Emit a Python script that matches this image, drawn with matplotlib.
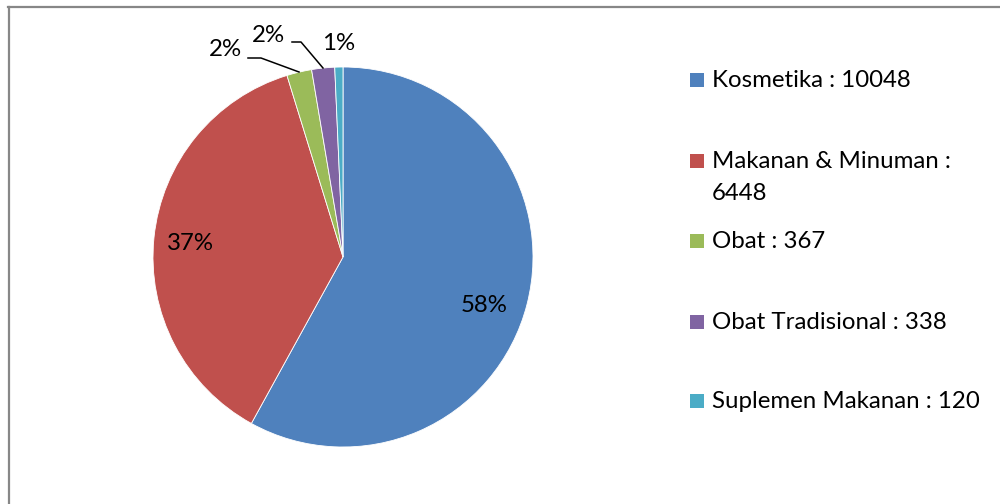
import matplotlib
matplotlib.use("Agg")
import matplotlib.pyplot as plt
from matplotlib.patches import Rectangle
from matplotlib.lines import Line2D

categories = ["Kosmetika", "Makanan & Minuman", "Obat", "Obat Tradisional", "Suplemen Makanan"]
values = [10048, 6448, 367, 338, 120]
legend_labels = ["Kosmetika : 10048", "Makanan & Minuman :\n6448", "Obat : 367",
                 "Obat Tradisional : 338", "Suplemen Makanan : 120"]
colors = ["#4F81BD", "#C0504D", "#9BBB59", "#8064A2", "#4BACC6"]

plt.rcParams['font.family'] = ['Lato', 'DejaVu Sans']

W, H = 1000, 504
FS = 17.3
fig = plt.figure(figsize=(W / 100, H / 100), dpi=100)
fig.patch.set_facecolor("white")

# figure border (top and left visible)
fig.add_artist(Line2D([8 / W, 1.0], [1 - 7 / H, 1 - 7 / H], color="#878787", lw=1.6,
                      transform=fig.transFigure))
fig.add_artist(Line2D([8.5 / W, 8.5 / W], [0, 1 - 7 / H], color="#878787", lw=1.6,
                      transform=fig.transFigure))

cx, cy, r = 343, 257, 190
ax = fig.add_axes([(cx - r) / W, (H - cy - r) / H, 2 * r / W, 2 * r / H])
wedges, _ = ax.pie(values, colors=colors, startangle=90, counterclock=False,
                   radius=1, wedgeprops=dict(linewidth=0.6, edgecolor="white"))
ax.set_xlim(-1, 1)
ax.set_ylim(-1, 1)
ax.set_aspect("equal")
ax.axis("off")

total = sum(values)
pcts = ["%d%%" % round(v / total * 100) for v in values]

def px(x, y):
    return ((x - cx) / r, (cy - y) / r)

label_pos = [(484, 306), (190, 243), (225, 50), (268, 35), (339, 43)]
for p, (lx, ly) in zip(pcts, label_pos):
    x, y = px(lx, ly)
    ax.text(x, y, p, ha="center", va="center", fontsize=FS, color="black", clip_on=False)

leaders = [[(248, 58), (261, 58), (299, 72)], [(292, 42), (301, 42), (323, 68)]]
for pts in leaders:
    xs, ys = zip(*[px(a, b) for a, b in pts])
    ax.plot(xs, ys, color="black", lw=1.1, clip_on=False)

# legend
baselines = [87, 168, 248, 329, 408]
line_gap = 32
for lab, col, yb in zip(legend_labels, colors, baselines):
    fig.add_artist(Rectangle((690 / W, 1 - yb / H), 14 / W, 14 / H,
                             facecolor=col, edgecolor="none", transform=fig.transFigure))
    for i, line in enumerate(lab.split("\n")):
        fig.text(712 / W, 1 - (yb + i * line_gap) / H, line, ha="left", va="baseline",
                 fontsize=FS, color="black")

fig.savefig("out.png", dpi=100, facecolor="white")
